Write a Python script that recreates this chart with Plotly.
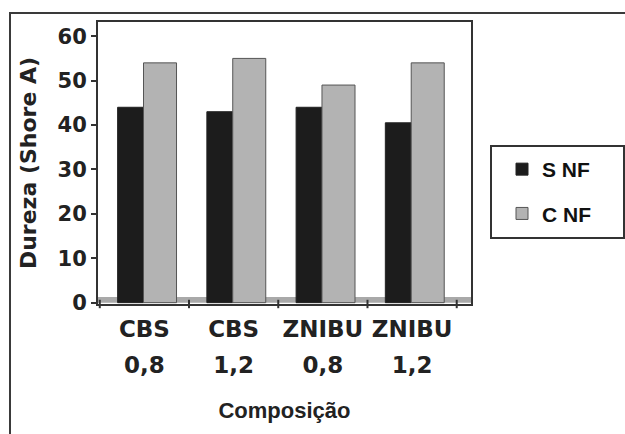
import plotly.graph_objects as go

categories = ["CBS 0,8", "CBS 1,2", "ZNIBU 0,8", "ZNIBU 1,2"]
tick_line1 = ["CBS", "CBS", "ZNIBU", "ZNIBU"]
tick_line2 = ["0,8", "1,2", "0,8", "1,2"]
s_nf = [44, 43, 44, 40.5]
c_nf = [54, 55, 49, 54]
y_ticks = [0, 10, 20, 30, 40, 50, 60]

W, H = 625, 434
L, R, T, B = 98, 154, 22, 130
PW, PH = W - L - R, H - T - B


def px_x(p):
    return (p - L) / PW


def px_y(p):
    return (H - B - p) / PH


tick_text = [
    f'<span style="font-size:23px">{a}</span><br><span style="font-size:23px">{b}</span>'
    for a, b in zip(tick_line1, tick_line2)
]
xs = list(range(len(categories)))

fig = go.Figure()
fig.add_trace(go.Bar(
    x=xs, y=s_nf, name="S NF", legendgroup="a",
    marker=dict(color="#1c1c1c", line=dict(color="#222222", width=1)),
    width=0.29, offset=-0.30,
))
fig.add_trace(go.Bar(
    x=xs, y=c_nf, name="C NF", legendgroup="b",
    marker=dict(color="#b3b3b3", line=dict(color="#555555", width=1)),
    width=0.37, offset=-0.01,
))

shapes = [
    # floor slab
    dict(type="rect", xref="paper", yref="y", x0=0, x1=1, y0=0, y1=1.3,
         fillcolor="#a9a9a9", line=dict(width=0), layer="below"),
    # outer frame
    dict(type="rect", xref="paper", yref="paper",
         x0=px_x(10), x1=px_x(680), y0=px_y(480), y1=px_y(13),
         line=dict(color="#3a3a3a", width=2), fillcolor="rgba(0,0,0,0)"),
    # legend box
    dict(type="rect", xref="paper", yref="paper",
         x0=px_x(491), x1=px_x(624), y0=px_y(238), y1=px_y(146),
         line=dict(color="#333333", width=2), fillcolor="rgba(0,0,0,0)"),
]

fig.update_layout(
    width=W, height=H,
    margin=dict(l=L, r=R, t=T, b=B, autoexpand=False),
    paper_bgcolor="white", plot_bgcolor="white",
    barmode="group",
    showlegend=True,
    legend=dict(
        x=px_x(502), y=px_y(149), xanchor="left", yanchor="top",
        font=dict(family="Liberation Sans", size=21, color="#111111", weight="bold"),
        bgcolor="rgba(0,0,0,0)", borderwidth=0,
        tracegroupgap=14, traceorder="grouped",
    ),
    shapes=shapes,
    xaxis=dict(
        type="linear", range=[-0.52, 3.66],
        tickmode="array", tickvals=xs, ticktext=tick_text,
        ticks="", showline=True, mirror=True, linecolor="#333333", linewidth=2,
        showgrid=False, zeroline=False, ticklabelstandoff=-3,
        tickfont=dict(family="DejaVu Sans", size=28, color="#222222", weight="bold"),
        title=dict(text="Composição", standoff=26,
                   font=dict(family="Liberation Sans", size=22, color="#222222", weight="bold")),
    ),
    yaxis=dict(
        range=[-0.3, 63.2], tickmode="array", tickvals=y_ticks,
        ticks="outside", ticklen=5, tickcolor="#333333", tickwidth=2,
        showline=True, mirror=True, linecolor="#333333", linewidth=2,
        showgrid=False, zeroline=False,
        tickfont=dict(family="DejaVu Sans", size=21, color="#222222", weight="bold"),
        title=dict(text="Dureza (Shore A)", standoff=15,
                   font=dict(family="DejaVu Sans", size=22, color="#222222", weight="bold")),
    ),
)

# boundary ticks on x axis (between categories)
fig.add_trace(go.Scatter(
    x=[-0.5, 0.5, 1.5, 2.5, 3.5], y=[-0.3] * 5, mode="markers",
    marker=dict(symbol="line-ns", size=6, line=dict(color="#333333", width=2)),
    showlegend=False, hoverinfo="skip", cliponaxis=False,
))

fig.write_html("out.html", config={"displayModeBar": False},
               post_script="document.body.style.margin='0';")
